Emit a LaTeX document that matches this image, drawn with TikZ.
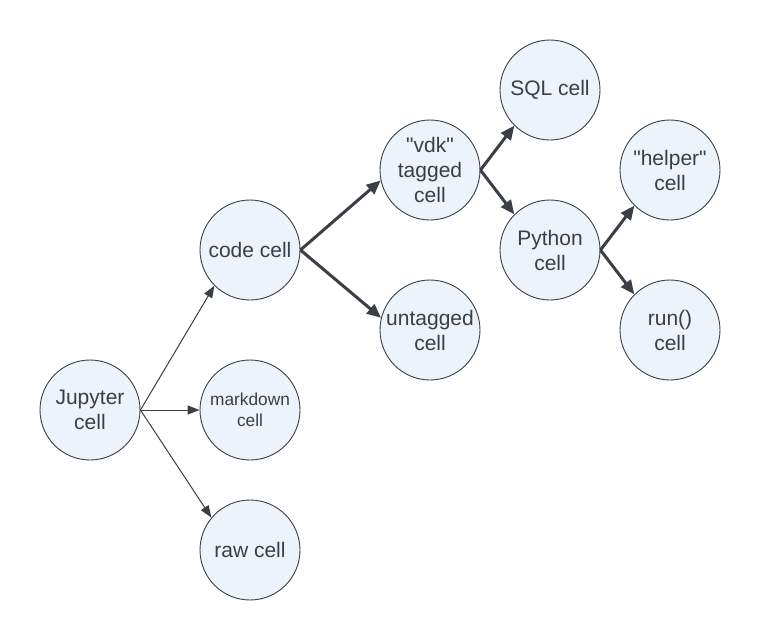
\documentclass[tikz,border=0pt]{standalone}
\usepackage{fontspec}
\setmainfont{Liberation Sans}[Ligatures=TeXOff]
\usetikzlibrary{arrows.meta}
\definecolor{cellfill}{HTML}{EDF3FB}
\definecolor{lineclr}{HTML}{3A3E45}
\definecolor{txtclr}{HTML}{3A3E45}
\newcommand{\dq}{\symbol{34}}
\begin{document}
\begin{tikzpicture}[x=1pt,y=-1pt,
  cellnode/.style={circle,draw=lineclr,line width=0.9pt,fill=cellfill,minimum size=100pt,inner sep=0pt,align=center,text=txtclr,font=\fontsize{21}{25}\selectfont},
  smallcell/.style={cellnode,font=\fontsize{17.3}{21}\selectfont},
  thinarrow/.style={draw=lineclr,line width=1pt,-{Triangle[length=12pt,width=9pt]}},
  thickarrow/.style={draw=lineclr,line width=3pt,-{Triangle[length=14pt,width=12pt]}},
  ]
\useasboundingbox (0,0) rectangle (760,640);
\fill[white] (0,0) rectangle (760,640);
\node[cellnode] (jup) at (90,410) {Jupyter\\cell};
\node[cellnode] (code) at (250,250) {code cell};
\node[smallcell] (md) at (250,410) {markdown\\cell};
\node[cellnode] (raw) at (250,550) {raw cell};
\node[cellnode] (vdk) at (430,170) {\dq vdk\dq\\tagged\\cell};
\node[cellnode] (untag) at (430,330) {untagged\\cell};
\node[cellnode] (sql) at (550,90) {SQL cell};
\node[cellnode] (py) at (550,250) {Python\\cell};
\node[cellnode] (helper) at (670,170) {\dq helper\dq\\cell};
\node[cellnode] (run) at (670,330) {run()\\cell};
\draw[thinarrow] (jup.east) -- (code.225);
\draw[thinarrow] (jup.east) -- (md.west);
\draw[thinarrow] (jup.east) -- (raw.140);
\draw[thickarrow] (code.east) -- (vdk.192);
\draw[thickarrow] (code.east) -- (untag.166);
\draw[thickarrow] (vdk.east) -- (sql.225);
\draw[thickarrow] (vdk.east) -- (py.135);
\draw[thickarrow] (py.east) -- (helper.225);
\draw[thickarrow] (py.east) -- (run.135);
\end{tikzpicture}
\end{document}
